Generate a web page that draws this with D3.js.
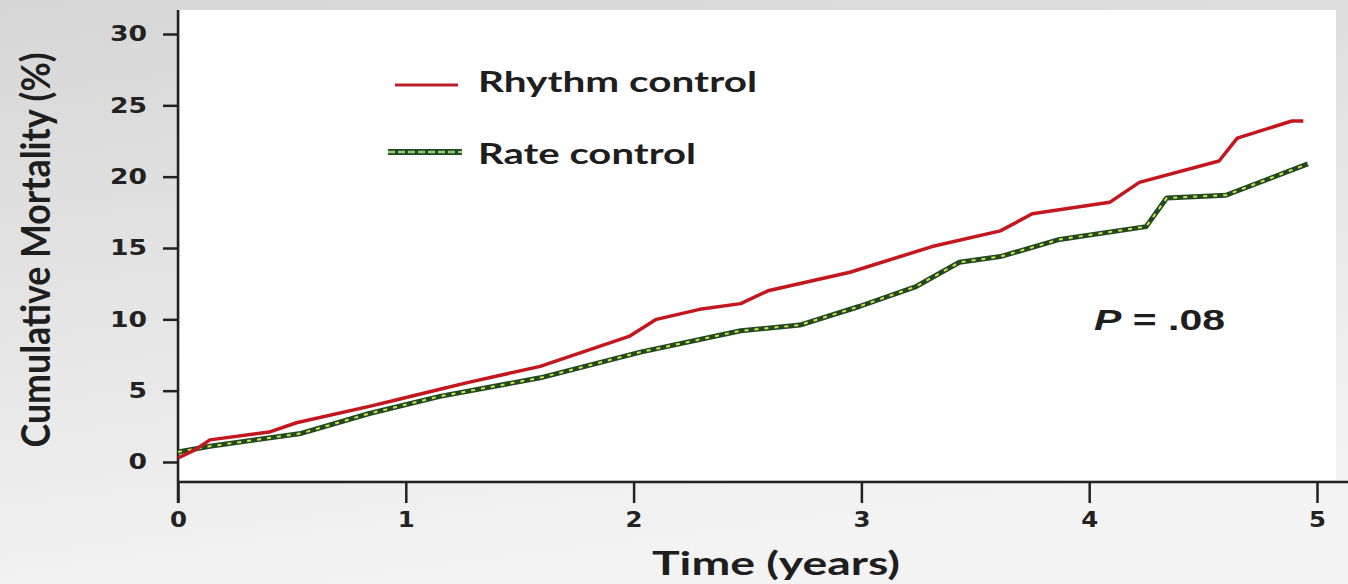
<!DOCTYPE html>
<meta charset="utf-8">
<head>
  <title>cumulative-mortality</title>
</head>
<style>
  body { margin: 0; }
  .tick text { font-family: "DejaVu Sans", sans-serif; font-weight: bold; font-size: 21px; fill: #222; }
  .lbl { font-family: Lato, "Open Sans", sans-serif; font-weight: bold; fill: #1e1e1e; }
</style>
<body>
  <svg width="1348" height="584"></svg>

  <script src="https://cdnjs.cloudflare.com/ajax/libs/d3/7.8.5/d3.min.js"></script>
  <script>
    // values
    var xTicks = [0, 1, 2, 3, 4, 5]
    var yTicks = [0, 5, 10, 15, 20, 25, 30]

    var rhythmTime = [0, 0.075, 0.14, 0.40, 0.52, 0.84, 0.97, 1.15, 1.28, 1.59, 1.98, 2.10, 2.29, 2.47, 2.59, 2.95, 3.31, 3.61, 3.75, 4.09, 4.22, 4.57, 4.65, 4.89, 4.94]
    var rhythmMort = [0.28, 0.85, 1.55, 2.1, 2.75, 3.9, 4.4, 5.1, 5.6, 6.7, 8.8, 10.0, 10.7, 11.1, 12.0, 13.3, 15.1, 16.2, 17.4, 18.2, 19.6, 21.1, 22.7, 23.9, 23.9]

    var rateTime = [0, 0.14, 0.54, 0.84, 1.15, 1.59, 2.03, 2.47, 2.73, 2.99, 3.24, 3.43, 3.61, 3.87, 4.25, 4.34, 4.60, 4.96]
    var rateMort = [0.7, 1.1, 2.0, 3.4, 4.6, 5.9, 7.7, 9.2, 9.6, 10.9, 12.3, 14.0, 14.4, 15.6, 16.5, 18.5, 18.7, 20.9]

    var svg = d3.select('svg')

    var x = d3.scaleLinear().domain([0, 5]).range([178, 1317])
    var y = d3.scaleLinear().domain([0, 30]).range([462, 34])

    // background
    var defs = svg.append('defs')
    var grad = defs.append('linearGradient').attr('id', 'bg')
      .attr('x1', 0).attr('y1', 0).attr('x2', 0.3).attr('y2', 1)
    grad.append('stop').attr('offset', 0).attr('stop-color', '#d6d6d6')
    grad.append('stop').attr('offset', 1).attr('stop-color', '#f3f3f3')

    svg.append('rect').attr('width', 1348).attr('height', 584).attr('fill', 'url(#bg)')
    svg.append('rect').attr('x', 180).attr('y', 10).attr('width', 1156).attr('height', 470).attr('fill', '#ffffff')

    // axes
    var yAxis = svg.append('g')
      .attr('transform', 'translate(178,0)')
      .call(d3.axisLeft(y).tickValues(yTicks).tickSize(15).tickPadding(16))
    yAxis.select('.domain').remove()
    yAxis.selectAll('.tick line').attr('stroke', '#222').attr('stroke-width', 2.5)
    yAxis.selectAll('.tick text')
      .attr('textLength', function(d) { return String(d).length * 18.5 })
      .attr('lengthAdjust', 'spacingAndGlyphs')

    var xAxis = svg.append('g')
      .attr('transform', 'translate(0,482)')
      .call(d3.axisBottom(x).tickValues(xTicks).tickFormat(d3.format('d')).tickSize(21).tickPadding(9))
    xAxis.select('.domain').remove()
    xAxis.selectAll('.tick line').attr('stroke', '#222').attr('stroke-width', 2.5)
    xAxis.selectAll('.tick text')
      .attr('textLength', 17)
      .attr('lengthAdjust', 'spacingAndGlyphs')

    svg.append('line').attr('x1', 178).attr('x2', 178).attr('y1', 10).attr('y2', 503)
      .attr('stroke', '#222').attr('stroke-width', 2.5)
    svg.append('line').attr('x1', 177).attr('x2', 1348).attr('y1', 482).attr('y2', 482)
      .attr('stroke', '#222').attr('stroke-width', 2.5)

    // curves
    var line = d3.line()
      .x(function(d) { return x(d[0]) })
      .y(function(d) { return y(d[1]) })

    var rate = d3.zip(rateTime, rateMort)
    var rhythm = d3.zip(rhythmTime, rhythmMort)

    svg.append('path').datum(rate).attr('d', line)
      .attr('fill', 'none').attr('stroke', '#1f4a22').attr('stroke-width', 5)
      .attr('stroke-linejoin', 'round')
    svg.append('path').datum(rate).attr('d', line)
      .attr('fill', 'none').attr('stroke', '#d9dc4a').attr('stroke-width', 2)
      .attr('stroke-dasharray', '4,6')

    svg.append('path').datum(rhythm).attr('d', line)
      .attr('fill', 'none').attr('stroke', '#c3161d').attr('stroke-width', 3.5)
      .attr('stroke-linejoin', 'round')

    // legend
    svg.append('line').attr('x1', 395).attr('x2', 458).attr('y1', 85).attr('y2', 85)
      .attr('stroke', '#b8202a').attr('stroke-width', 3)
    svg.append('line').attr('x1', 388).attr('x2', 462).attr('y1', 152).attr('y2', 152)
      .attr('stroke', '#1f4a22').attr('stroke-width', 6)
    svg.append('line').attr('x1', 388).attr('x2', 462).attr('y1', 152).attr('y2', 152)
      .attr('stroke', '#9fc27a').attr('stroke-width', 2.5).attr('stroke-dasharray', '7,3')

    svg.append('text').attr('class', 'lbl').attr('x', 478).attr('y', 92)
      .attr('font-size', 29).attr('textLength', 279).attr('lengthAdjust', 'spacingAndGlyphs')
      .text('Rhythm control')
    svg.append('text').attr('class', 'lbl').attr('x', 478).attr('y', 164)
      .attr('font-size', 29).attr('textLength', 218).attr('lengthAdjust', 'spacingAndGlyphs')
      .text('Rate control')

    // p-value
    var p = svg.append('text').attr('x', 1094).attr('y', 330)
      .attr('font-family', '"Liberation Sans", Arial, sans-serif').attr('font-weight', 'bold')
      .attr('font-size', 30).attr('fill', '#1e1e1e')
      .attr('textLength', 131).attr('lengthAdjust', 'spacingAndGlyphs')
    p.append('tspan').attr('font-style', 'italic').text('P')
    p.append('tspan').text(' = .08')

    // axis titles
    svg.append('text').attr('class', 'lbl')
      .attr('transform', 'translate(50,250) scale(1.25,1) rotate(-90)')
      .attr('text-anchor', 'middle').attr('font-size', 32).attr('font-weight', 'normal')
      .attr('textLength', 395).attr('lengthAdjust', 'spacingAndGlyphs')
      .text('Cumulative Mortality (%)')

    svg.append('text').attr('class', 'lbl').attr('x', 776).attr('y', 575)
      .attr('text-anchor', 'middle').attr('font-size', 33)
      .attr('textLength', 248).attr('lengthAdjust', 'spacingAndGlyphs')
      .text('Time (years)')
  </script>
</body>
</html>
